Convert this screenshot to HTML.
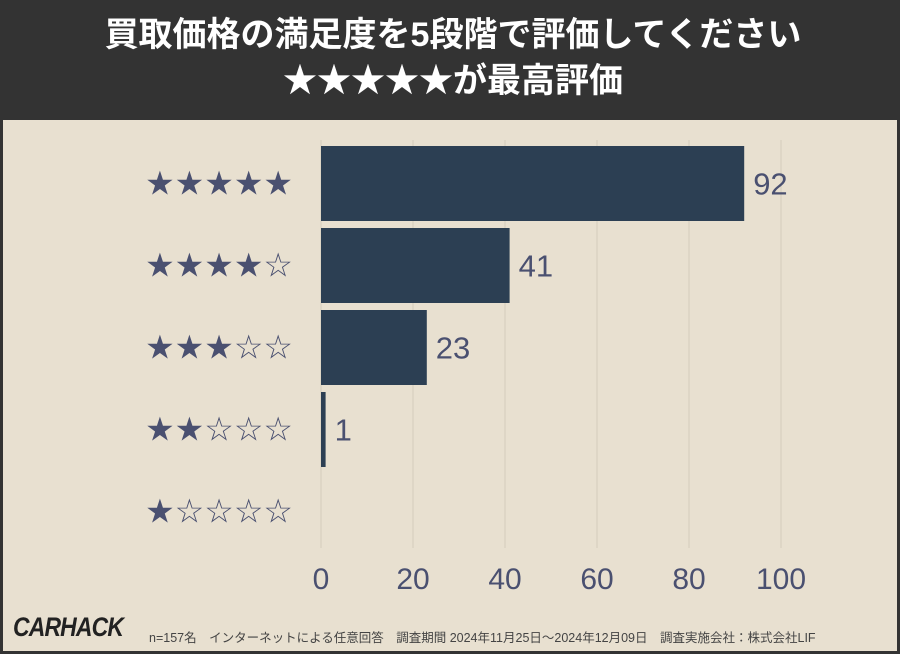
<!DOCTYPE html>
<html><head><meta charset="utf-8"><style>
body{margin:0;width:900px;height:654px;overflow:hidden;font-family:"Liberation Sans","Noto Sans CJK JP",sans-serif}
#wrap{position:absolute;left:0;top:0;width:900px;height:654px;background:#e8e0d0;box-sizing:border-box;border:3px solid #333;border-top:none}
#hdr{position:absolute;left:0;top:0;width:900px;height:120px;background:#333333;color:#fff;font-weight:bold;font-size:34px;text-align:center;line-height:46px;padding-top:12px;box-sizing:border-box;font-family:"Liberation Sans","Noto Sans CJK JP",sans-serif}
#foot{position:absolute;left:0;top:612px;width:900px;height:42px}
</style></head><body>
<div id="wrap">
<div id="hdr">買取価格の満足度を5段階で評価してください<br>★★★★★が最高評価</div>
<svg id="chart" width="900" height="654" style="position:absolute;left:0;top:0"></svg>
<div id="foot">
<span style="position:absolute;left:10px;top:0px;font-size:27px;font-weight:bold;font-style:italic;color:#222;letter-spacing:-1px;transform:scaleX(0.85);transform-origin:left">CARHACK</span>
<span style="position:absolute;left:146px;top:15px;font-size:12.5px;color:#444;white-space:nowrap">n=157名　インターネットによる任意回答　調査期間 2024年11月25日〜2024年12月09日　調査実施会社：株式会社LIF</span>
</div>
</div>
<script>
const categories=["★★★★★","★★★★☆","★★★☆☆","★★☆☆☆","★☆☆☆☆"];
const values=[92,41,23,1,0];
const ticks=[0,20,40,60,80,100];
const ns="http://www.w3.org/2000/svg";
const svg=document.getElementById('chart');
const x0=318,pxPer=4.6,rowTop=146,rowStep=82,barH=75;
const xs=v=>x0+v*pxPer;
function mk(t,a){const e=document.createElementNS(ns,t);for(const k in a)e.setAttribute(k,a[k]);svg.appendChild(e);return e;}
ticks.forEach(t=>{
const g=mk('line',{x1:xs(t),x2:xs(t),y1:140,y2:548,stroke:'#d3cbbb','stroke-width':1});


const l=mk('text',{x:xs(t),y:589,'text-anchor':'middle','font-size':30,fill:'#4a5070','font-family':'Liberation Sans, sans-serif'});
l.textContent=t;


});
categories.forEach((c,i)=>{
const y=rowTop+i*rowStep;
const lab=mk('text',{x:290,y:y+barH/2+11,'text-anchor':'end','font-size':33,fill:'#4a5070','font-family':'DejaVu Sans, sans-serif'});
lab.textContent=c;


const v=values[i];
if(v>0){
const r=mk('rect',{x:x0,y:y,width:xs(v)-x0,height:barH,fill:'#2c3f53'});


const t=mk('text',{x:xs(v)+9,y:y+barH/2+11,'font-size':31,fill:'#4a5070','font-family':'Liberation Sans, sans-serif'});
t.textContent=v;


}
});
</script>
</body></html>
